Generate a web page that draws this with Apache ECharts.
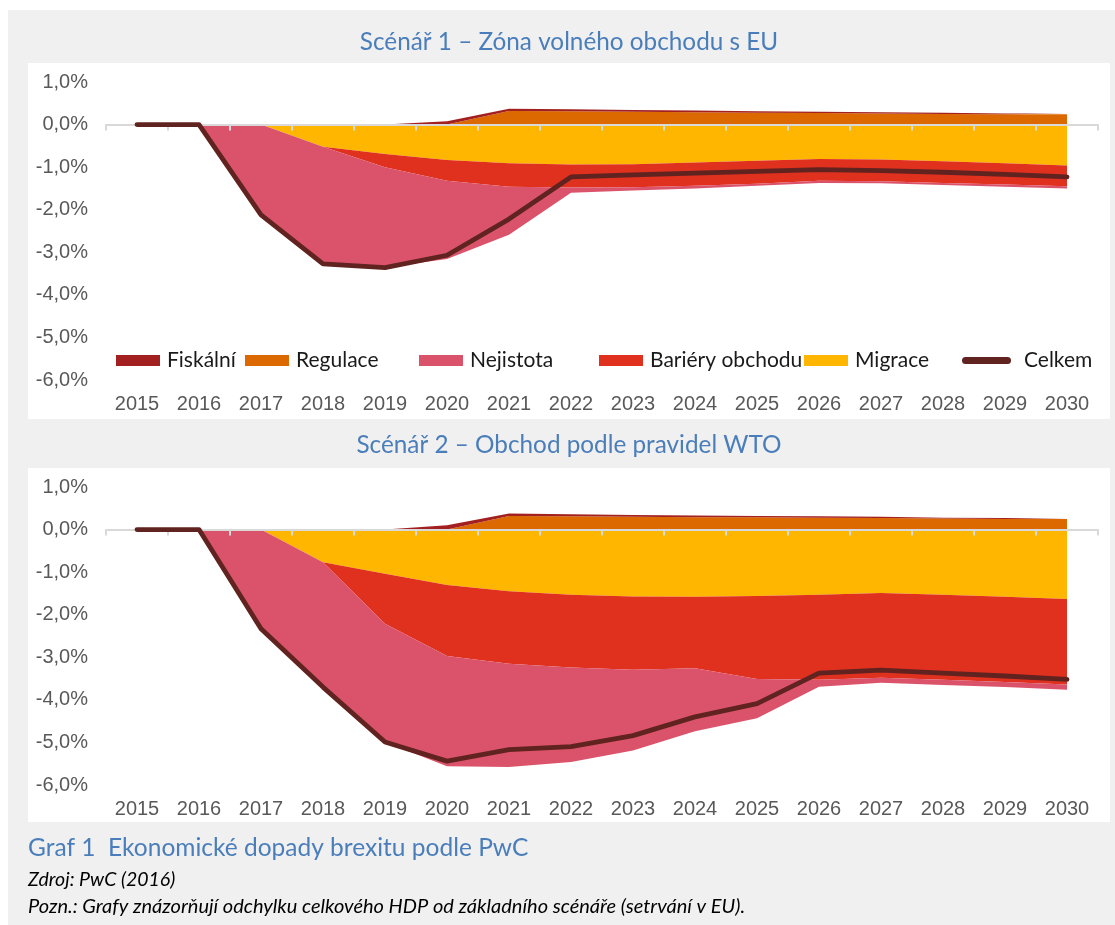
<!DOCTYPE html>
<html lang="cs">
<head>
<meta charset="utf-8">
<title>Ekonomické dopady brexitu podle PwC</title>
<script src="https://cdn.jsdelivr.net/npm/echarts@6/dist/echarts.min.js"></script>
<style>
  html, body { margin: 0; padding: 0; background: #ffffff; }
  #chart { width: 1115px; height: 925px; }
</style>
</head>
<body>
<div id="chart"></div>
<script>
// Roky na ose X
const years = ['2015', '2016', '2017', '2018', '2019', '2020', '2021', '2022',
               '2023', '2024', '2025', '2026', '2027', '2028', '2029', '2030'];

// Scénář 1 – Zóna volného obchodu s EU (odchylka HDP v %)
const s1Fiskalni  = [0, 0, 0, 0, 0, 0.08, 0.05, 0.05, 0.04, 0.04, 0.03, 0.03, 0.03, 0.03, 0.02, 0.02];
const s1Regulace  = [0, 0, 0, 0, 0, 0, 0.32, 0.31, 0.30, 0.29, 0.28, 0.27, 0.26, 0.25, 0.24, 0.24];
const s1Migrace   = [0, 0, 0, -0.52, -0.69, -0.83, -0.91, -0.94, -0.93, -0.89, -0.85, -0.81, -0.82, -0.86, -0.91, -0.96];
const s1Bariery   = [0, 0, 0, 0, -0.31, -0.49, -0.55, -0.54, -0.54, -0.55, -0.54, -0.51, -0.51, -0.51, -0.50, -0.49];
const s1Nejistota = [0, 0, -2.12, -2.75, -2.36, -1.84, -1.13, -0.12, -0.08, -0.06, -0.05, -0.05, -0.05, -0.05, -0.05, -0.05];
const s1Celkem    = [0, 0, -2.12, -3.27, -3.36, -3.07, -2.22, -1.23, -1.18, -1.14, -1.10, -1.06, -1.08, -1.12, -1.17, -1.23];

// Scénář 2 – Obchod podle pravidel WTO (odchylka HDP v %)
const s2Fiskalni  = [0, 0, 0, 0, 0, 0.10, 0.06, 0.05, 0.04, 0.04, 0.03, 0.03, 0.03, 0.02, 0.02, 0.02];
const s2Regulace  = [0, 0, 0, 0, 0, 0, 0.32, 0.31, 0.30, 0.29, 0.29, 0.28, 0.27, 0.26, 0.25, 0.25];
const s2Migrace   = [0, 0, 0, -0.77, -1.04, -1.30, -1.45, -1.53, -1.57, -1.58, -1.56, -1.53, -1.49, -1.53, -1.58, -1.63];
const s2Bariery   = [0, 0, 0, 0, -1.17, -1.67, -1.70, -1.71, -1.72, -1.68, -1.95, -2.00, -1.99, -2.00, -2.00, -2.01];
const s2Nejistota = [0, 0, -2.33, -2.93, -2.78, -2.59, -2.43, -2.22, -1.90, -1.48, -0.92, -0.16, -0.12, -0.12, -0.12, -0.12];
const s2Celkem    = [0, 0, -2.33, -3.70, -4.99, -5.44, -5.17, -5.10, -4.84, -4.40, -4.09, -3.37, -3.30, -3.37, -3.44, -3.52];

// Barvy složek
const colors = {
  'Fiskální': '#a32020',
  'Regulace': '#dc6900',
  'Nejistota': '#db536a',
  'Bariéry obchodu': '#e0301e',
  'Migrace': '#ffb600',
  'Celkem': '#602320'
};

const axisFont = 'Liberation Sans, Arial, sans-serif';
const textFont = 'Lato, Carlito, Calibri, sans-serif';
const pct = v => v.toFixed(1).replace('.', ',') + '%';

function areaSeries(name, data, stack, axisIdx) {
  return {
    name: name,
    type: 'line',
    stack: stack,
    data: data,
    xAxisIndex: axisIdx * 2,
    yAxisIndex: axisIdx,
    symbol: 'none',
    smooth: false,
    lineStyle: { width: 0, opacity: 0 },
    itemStyle: { color: colors[name] },
    areaStyle: { color: colors[name], opacity: 1 },
    z: 2
  };
}

function totalSeries(data, axisIdx) {
  return {
    name: 'Celkem',
    type: 'line',
    data: data,
    xAxisIndex: axisIdx * 2,
    yAxisIndex: axisIdx,
    symbol: 'none',
    lineStyle: { width: 4.8, color: colors['Celkem'], cap: 'round', join: 'round' },
    itemStyle: { color: colors['Celkem'] },
    z: 5
  };
}

function scenarioSeries(idx, d) {
  const stack = 'sc' + idx;
  // Kladné složky se skládají nad nulu (Regulace, pak Fiskální),
  // záporné pod nulu (Migrace, Bariéry obchodu, Nejistota).
  return [
    areaSeries('Regulace', d.reg, stack, idx),
    areaSeries('Fiskální', d.fis, stack, idx),
    areaSeries('Migrace', d.mig, stack, idx),
    areaSeries('Bariéry obchodu', d.bar, stack, idx),
    areaSeries('Nejistota', d.nej, stack, idx),
    totalSeries(d.tot, idx)
  ];
}

function gridAxes(gridIndex) {
  return [
    { // osa na nulové úrovni s dílky
      type: 'category', gridIndex: gridIndex, data: years, boundaryGap: true,
      axisLine: { onZero: true, lineStyle: { color: '#d9d9d9', width: 2 } },
      axisTick: { show: true, length: 6, lineStyle: { color: '#d9d9d9', width: 2 } },
      axisLabel: { show: false }, splitLine: { show: false }, z: 3
    },
    { // popisky let u spodního okraje
      type: 'category', gridIndex: gridIndex, data: years, boundaryGap: true, position: 'bottom',
      axisLine: { show: false, onZero: false }, axisTick: { show: false },
      axisLabel: { show: true, margin: 14, color: '#595959', fontFamily: axisFont, fontSize: 20 },
      splitLine: { show: false }
    }
  ];
}

function yAxisFor(gridIndex) {
  return {
    type: 'value', gridIndex: gridIndex, min: -6, max: 1, interval: 1,
    axisLine: { show: false }, axisTick: { show: false }, splitLine: { show: false },
    axisLabel: { margin: 18, color: '#595959', fontFamily: axisFont, fontSize: 20, formatter: pct }
  };
}

// Legenda – každá položka umístěná zvlášť
const legendSlots = [
  { name: 'Fiskální', left: 116 },
  { name: 'Regulace', left: 245 },
  { name: 'Nejistota', left: 419 },
  { name: 'Bariéry obchodu', left: 599 },
  { name: 'Migrace', left: 804 },
  { name: 'Celkem', left: 962 }
];
const legends = legendSlots.map(s => {
  const isLine = s.name === 'Celkem';
  return {
    data: [s.name],
    left: s.left,
    top: 350,
    padding: 0,
    icon: isLine ? 'path://M3.5,0 L45.5,0 A3.5,3.5 0 0 1 45.5,7 L3.5,7 A3.5,3.5 0 0 1 3.5,0 Z' : 'rect',
    itemWidth: isLine ? 49 : 44,
    itemHeight: isLine ? 7 : 11,
    itemStyle: { color: colors[s.name], borderWidth: 0 },
    textStyle: { fontFamily: textFont, fontSize: 21, color: '#1a1a1a', padding: isLine ? [0, 0, 0, 8] : [0, 0, 0, 2] }
  };
});

const chart = echarts.init(document.getElementById('chart'), null, { renderer: 'canvas' });

chart.setOption({
  backgroundColor: '#ffffff',
  animation: false,
  graphic: [
    { type: 'rect', z: -10, shape: { x: 8, y: 10, width: 1107, height: 915 }, style: { fill: '#f0f0f0' } },
    { type: 'rect', z: -9, shape: { x: 28, y: 63, width: 1082, height: 356 }, style: { fill: '#ffffff' } },
    { type: 'rect', z: -9, shape: { x: 28, y: 468, width: 1082, height: 354 }, style: { fill: '#ffffff' } },
    { type: 'text', z: 10, x: 569, y: 42,
      style: { text: 'Scénář 1 – Zóna volného obchodu s EU', fill: '#4a7ebb', font: '24.3px ' + textFont, align: 'center', verticalAlign: 'middle' } },
    { type: 'text', z: 10, x: 569, y: 445,
      style: { text: 'Scénář 2 – Obchod podle pravidel WTO', fill: '#4a7ebb', font: '24.3px ' + textFont, align: 'center', verticalAlign: 'middle' } },
    { type: 'text', z: 10, x: 28, y: 848,
      style: { text: 'Graf 1  Ekonomické dopady brexitu podle PwC', fill: '#4a7ebb', font: '24.5px ' + textFont, align: 'left', verticalAlign: 'middle' } },
    { type: 'text', z: 10, x: 28, y: 880,
      style: { text: 'Zdroj: PwC (2016)', fill: '#000000', font: 'italic 19.5px ' + textFont, align: 'left', verticalAlign: 'middle' } },
    { type: 'text', z: 10, x: 28, y: 907,
      style: { text: 'Pozn.: Grafy znázorňují odchylku celkového HDP od základního scénáře (setrvání v EU).', fill: '#000000', font: 'italic 20px ' + textFont, align: 'left', verticalAlign: 'middle' } }
  ],
  legend: legends,
  grid: [
    { left: 106, width: 992, top: 82, height: 298 },
    { left: 106, width: 992, top: 487, height: 298 }
  ],
  xAxis: gridAxes(0).concat(gridAxes(1)),
  yAxis: [yAxisFor(0), yAxisFor(1)],
  series: scenarioSeries(0, { fis: s1Fiskalni, reg: s1Regulace, mig: s1Migrace, bar: s1Bariery, nej: s1Nejistota, tot: s1Celkem })
    .concat(scenarioSeries(1, { fis: s2Fiskalni, reg: s2Regulace, mig: s2Migrace, bar: s2Bariery, nej: s2Nejistota, tot: s2Celkem }))
});
</script>
</body>
</html>
